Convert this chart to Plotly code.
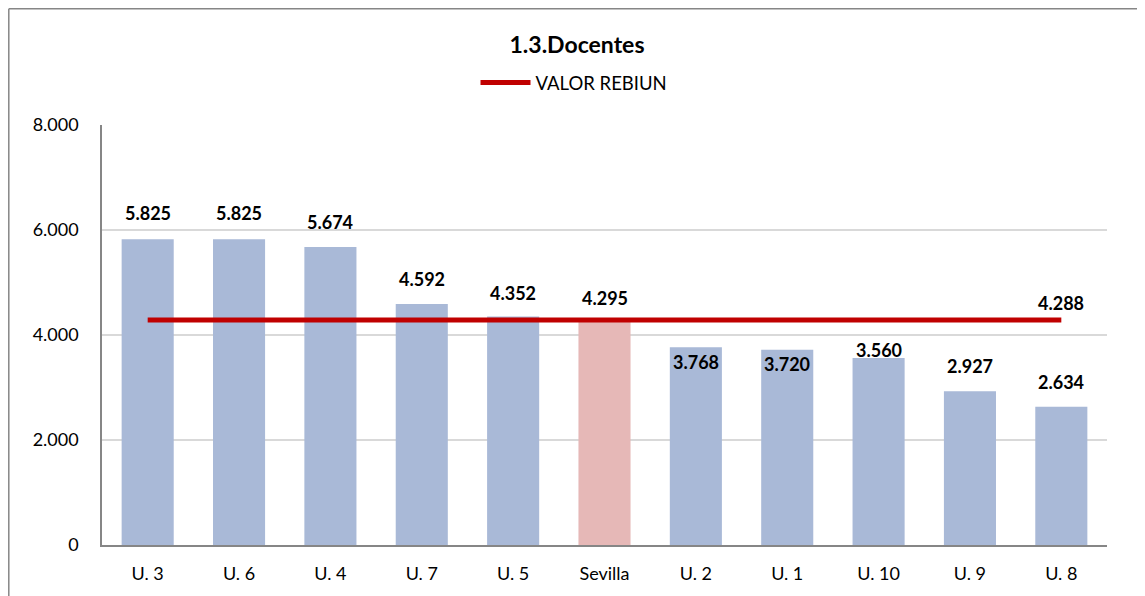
import plotly.graph_objects as go

categories = ["U. 3", "U. 6", "U. 4", "U. 7", "U. 5", "Sevilla", "U. 2", "U. 1", "U. 10", "U. 9", "U. 8"]
docentes = [5825, 5825, 5674, 4592, 4352, 4295, 3768, 3720, 3560, 2927, 2634]
rebiun_value = 4288
y_tick_values = [0, 2000, 4000, 6000, 8000]
y_tick_labels = ["0", "2.000", "4.000", "6.000", "8.000"]

# label offsets in pixels (style), relative to bar top
label_shift = [26, 26, 25, 25, 24, 22, -15, -14, 8, 25, 25]

BLUE = "#A9B9D7"
PINK = "#E6B8B7"
RED = "#C00000"
FONT = "Lato"

def fmt(v):
    return f"{v:,}".replace(",", ".")

colors = [PINK if c == "Sevilla" else BLUE for c in categories]

fig = go.Figure()
fig.add_trace(go.Bar(
    x=categories, y=docentes, marker=dict(color=colors, line=dict(width=0)),
    width=0.57, showlegend=False, hoverinfo="x+y",
))
fig.add_trace(go.Scatter(
    x=categories, y=[rebiun_value] * len(categories), mode="lines",
    line=dict(color=RED, width=5), name="VALOR REBIUN",
))

for c, v, s in zip(categories, docentes, label_shift):
    fig.add_annotation(x=c, y=v, text=f"<b>{fmt(v)}</b>", showarrow=False,
                       yanchor="middle", yshift=s, font=dict(size=18, color="#000000", family=FONT))
fig.add_annotation(x=categories[-1], y=rebiun_value, text=f"<b>{fmt(rebiun_value)}</b>", showarrow=False,
                   yanchor="middle", yshift=17, font=dict(size=18, color="#000000", family=FONT))

# figure is placed at (8, 8) in the page; coordinates below are in figure pixels
W, H = 1137, 588
L, R, T, B = 94, 38, 117, 51
pw, ph = W - L - R, H - T - B
def px(x): return (x - L) / pw
def py(y): return (H - B - y) / ph
frame = dict(color="#868686", width=1.5)
fig.add_shape(type="line", xref="paper", yref="paper",
              x0=px(0.8), x1=px(0.8), y0=py(H), y1=py(0.8), line=frame, layer="below")
fig.add_shape(type="line", xref="paper", yref="paper",
              x0=px(0.8), x1=px(W), y0=py(0.8), y1=py(0.8), line=frame, layer="below")

fig.update_layout(
    width=W, height=H,
    margin=dict(l=L, r=R, t=T, b=B, autoexpand=False),
    paper_bgcolor="white", plot_bgcolor="white",
    font=dict(family=FONT, size=18, color="#000000"),
    title=dict(text="<b>1.3.Docentes</b>", x=px(569), xref="paper", xanchor="center",
               y=1 - 37 / H, yanchor="middle", font=dict(size=23, family=FONT, color="#000000")),
    legend=dict(orientation="h", x=px(566), xanchor="center", y=py(75), yanchor="middle",
                font=dict(size=18.5, family=FONT), bgcolor="rgba(0,0,0,0)", itemwidth=50),
    bargap=0.43,
    yaxis=dict(range=[0, 8000], tickvals=y_tick_values, ticktext=y_tick_labels,
               showgrid=True, gridcolor="#D9D9D9", gridwidth=1.5, zeroline=False,
               showline=True, linecolor="#868686", linewidth=1.5, ticks="", ticklabelstandoff=18,
               tickfont=dict(size=18), automargin=False),
    xaxis=dict(showline=True, linecolor="#868686", linewidth=1.5, ticks="",
               tickfont=dict(size=18), ticklabelstandoff=12, automargin=False),
)

fig.write_html("out.html")
